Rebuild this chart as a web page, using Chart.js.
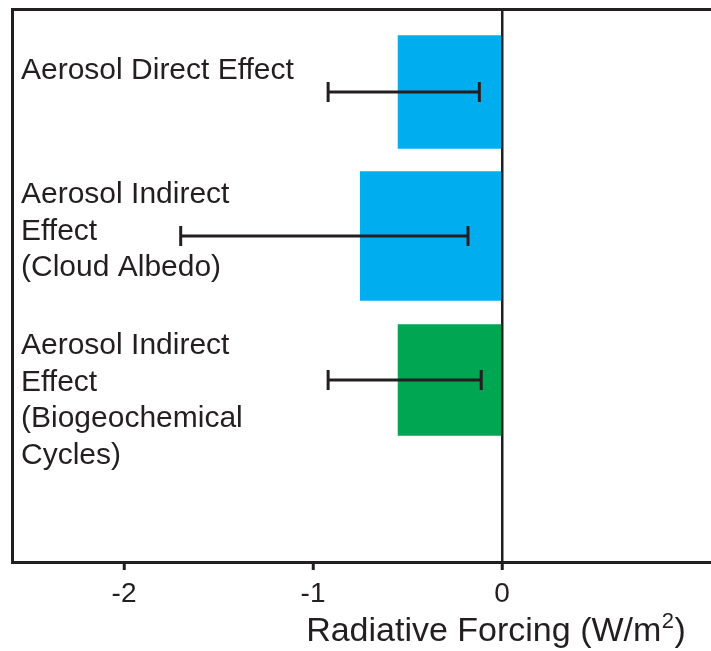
<!DOCTYPE html>
<html>
<head>
<meta charset="utf-8">
<script src="https://cdn.jsdelivr.net/npm/chart.js@4"></script>
<style>
  html, body { margin: 0; padding: 0; background: #ffffff; overflow: hidden; }
  #wrap { position: relative; width: 711px; height: 651px; }
  #c { display: block; }
</style>
</head>
<body>
<div id="wrap"><canvas id="c"></canvas></div>
<script>
// ---- data ----
const categories = [
  ["Aerosol Direct Effect"],
  ["Aerosol Indirect", "Effect", "(Cloud Albedo)"],
  ["Aerosol Indirect", "Effect", "(Biogeochemical", "Cycles)"]
];
const forcing   = [-0.55, -0.75, -0.55];
const errLow    = [-0.92, -1.70, -0.92];
const errHigh   = [-0.12, -0.18, -0.11];
const barColors = ["#00aeef", "#00aeef", "#00a651"];
const tickValues = [-2, -1, 0];
const tickLabels = ["-2", "-1", "0"];
const axisTitle = "Radiative Forcing (W/m";
const axisTitleSup = "2";
const axisTitleEnd = ")";

// ---- layout / style constants ----
const INK = "#231f20";
const FONT = "'Liberation Sans', Arial, Helvetica, sans-serif";
const barThicknessPx = [113, 129, 111];
const labelFirstBaselineOffsetPx = [-12.7, -32.7, -25.7];
const labelLineHeightPx = 36.5;

const xMin = -2.5926, xMax = 1.1058;
const yMin = -0.5764, yMax = 3.2639;

const datasets = [];
forcing.forEach((v, i) => {
  datasets.push({
    type: 'bar',
    data: [{ x: v, y: i }],
    backgroundColor: barColors[i],
    borderWidth: 0,
    barThickness: barThicknessPx[i],
    grouped: false,
    order: 2
  });
});
errLow.forEach((lo, i) => {
  datasets.push({
    type: 'line',
    data: [{ x: lo, y: i }, { x: errHigh[i], y: i }],
    borderColor: INK,
    borderWidth: 3,
    pointStyle: 'line',
    pointRotation: 90,
    pointRadius: 10,
    pointBorderWidth: 3,
    pointBorderColor: INK,
    pointBackgroundColor: INK,
    fill: false,
    tension: 0,
    clip: false,
    order: 1
  });
});

const labelsPlugin = {
  id: 'catLabels',
  afterDraw(chart) {
    const ctx = chart.ctx;
    const ys = chart.scales.y;
    const xs = chart.scales.x;
    ctx.save();
    ctx.fillStyle = INK;
    ctx.textAlign = 'left';
    ctx.textBaseline = 'alphabetic';
    ctx.font = "30px " + FONT;
    categories.forEach((lines, i) => {
      const base = ys.getPixelForValue(i) + labelFirstBaselineOffsetPx[i];
      lines.forEach((ln, k) => {
        ctx.fillText(ln, chart.chartArea.left + 9, base + k * labelLineHeightPx);
      });
    });
    // axis title with superscript
    const big = "34px " + FONT, small = "22px " + FONT;
    ctx.font = big;
    const w1 = ctx.measureText(axisTitle).width;
    const w3 = ctx.measureText(axisTitleEnd).width;
    ctx.font = small;
    const w2 = ctx.measureText(axisTitleSup).width;
    const total = w1 + w2 + 1 + w3;
    const cx = xs.getPixelForValue(0) - 6;
    let x = cx - total / 2;
    const baseY = chart.chartArea.bottom + 79;
    ctx.font = big;
    ctx.fillText(axisTitle, x, baseY);
    x += w1 + 0.5;
    ctx.font = small;
    ctx.fillText(axisTitleSup, x, baseY - 13);
    x += w2 + 0.5;
    ctx.font = big;
    ctx.fillText(axisTitleEnd, x, baseY);
    ctx.restore();
  }
};

new Chart(document.getElementById('c'), {
  type: 'bar',
  data: { datasets },
  options: {
    indexAxis: 'y',
    responsive: true,
    maintainAspectRatio: false,
    animation: false,
    layout: { autoPadding: false, padding: { left: 12, right: 0, top: 9, bottom: 33.4 } },
    plugins: { legend: { display: false }, tooltip: { enabled: false } },
    scales: {
      x: {
        type: 'linear',
        position: 'bottom',
        offset: false,
        min: xMin, max: xMax,
        afterBuildTicks: (s) => { s.ticks = tickValues.map(v => ({ value: v })); },
        ticks: {
          color: INK,
          font: { family: FONT, size: 28 },
          padding: 7,
          maxRotation: 0,
          callback: (v) => { const k = tickValues.indexOf(v); return k >= 0 ? tickLabels[k] : ''; }
        },
        grid: {
          display: true,
          offset: false,
          drawOnChartArea: true,
          drawTicks: true,
          tickLength: 8,
          tickWidth: 3,
          tickColor: INK,
          lineWidth: 2.5,
          color: (c) => (c.tick && c.tick.value === 0) ? INK : 'rgba(0,0,0,0)'
        },
        border: { display: true, width: 3, color: INK }
      },
      x2: {
        type: 'linear',
        position: 'top',
        offset: false,
        min: xMin, max: xMax,
        display: true,
        ticks: { display: false },
        grid: { display: false, drawTicks: false },
        border: { display: true, width: 3, color: INK }
      },
      y: {
        type: 'linear',
        reverse: true,
        offset: false,
        min: yMin, max: yMax,
        display: true,
        ticks: { display: false },
        grid: { display: false, drawTicks: false, offset: false },
        border: { display: true, width: 3, color: INK }
      }
    }
  },
  plugins: [labelsPlugin]
});
</script>
</body>
</html>
